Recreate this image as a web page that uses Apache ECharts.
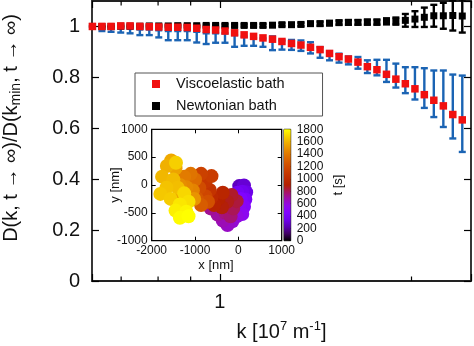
<!DOCTYPE html>
<html><head><meta charset="utf-8">
<script src="https://cdn.jsdelivr.net/npm/echarts@6/dist/echarts.min.js"></script>
<style>html,body{margin:0;padding:0;background:#fff}#c{width:474px;height:346px}</style>
</head><body><div id="c"></div>
<script>
// Wave numbers k [10^7 m^-1]
const kValues = [0.631, 0.653, 0.675, 0.699, 0.723, 0.749, 0.775, 0.802, 0.830, 0.859,
  0.889, 0.920, 0.952, 0.985, 1.019, 1.055, 1.092, 1.130, 1.169, 1.210,
  1.252, 1.296, 1.341, 1.388, 1.437, 1.487, 1.539, 1.592, 1.648, 1.705,
  1.765, 1.827, 1.890, 1.956, 2.025, 2.095, 2.168, 2.244, 2.322, 2.403];

// Viscoelastic bath: normalized long-time diffusion and its error band
const viscoValues = [1.000, 1.000, 1.000, 1.002, 1.002, 1.000, 0.999, 0.998, 0.997, 0.997,
  0.996, 0.993, 0.988, 0.986, 0.982, 0.975, 0.967, 0.961, 0.955, 0.950,
  0.941, 0.933, 0.927, 0.918, 0.909, 0.894, 0.881, 0.872, 0.860, 0.842,
  0.830, 0.812, 0.793, 0.775, 0.755, 0.732, 0.710, 0.688, 0.654, 0.633];
const viscoErrHigh = [1.000, 0.992, 0.992, 0.992, 0.992, 0.988, 0.988, 0.985, 0.982, 0.982,
  0.982, 0.979, 0.973, 0.973, 0.973, 0.966, 0.960, 0.955, 0.953, 0.961,
  0.945, 0.947, 0.945, 0.938, 0.919, 0.903, 0.893, 0.882, 0.880, 0.867,
  0.869, 0.869, 0.854, 0.840, 0.840, 0.836, 0.827, 0.827, 0.811, 0.807];
const viscoErrLow = [1.000, 0.982, 0.979, 0.976, 0.973, 0.966, 0.966, 0.957, 0.946, 0.946,
  0.946, 0.937, 0.931, 0.936, 0.936, 0.920, 0.924, 0.924, 0.920, 0.907,
  0.909, 0.908, 0.904, 0.894, 0.877, 0.867, 0.858, 0.851, 0.834, 0.817,
  0.808, 0.782, 0.760, 0.738, 0.713, 0.680, 0.644, 0.605, 0.560, 0.507];

// Newtonian bath: normalized long-time diffusion and half-width of its error bar
const newtonValues = [1.000, 1.000, 1.000, 1.001, 1.001, 1.001, 1.002, 1.002, 1.002, 1.003,
  1.003, 1.003, 1.004, 1.004, 1.004, 1.004, 1.004, 1.004, 1.004, 1.005,
  1.007, 1.007, 1.008, 1.011, 1.011, 1.013, 1.015, 1.016, 1.016, 1.017,
  1.017, 1.020, 1.021, 1.024, 1.029, 1.036, 1.042, 1.042, 1.043, 1.041];
const newtonErr = [0.000, 0.002, 0.002, 0.002, 0.003, 0.003, 0.003, 0.003, 0.003, 0.004,
  0.004, 0.004, 0.004, 0.004, 0.005, 0.005, 0.005, 0.005, 0.006, 0.006,
  0.006, 0.006, 0.007, 0.007, 0.008, 0.008, 0.008, 0.009, 0.009, 0.010,
  0.010, 0.012, 0.014, 0.025, 0.031, 0.038, 0.043, 0.051, 0.059, 0.065];

// Minor ticks of the logarithmic k axis
const minorTickK = [0.7, 0.8, 0.9, 2];

// Particle trajectory in the inset: [x nm, y nm, t s]
const trajectory = [
  [70, -30, 60], [110, -80, 150],
  [20, -20, 250], [130, -10, 290], [180, -130, 330], [90, -120, 360], [-20, -140, 390],
  [160, -260, 420], [60, -250, 450], [130, -390, 480], [30, -370, 510], [90, -520, 540],
  [-40, -560, 580], [-140, -650, 610], [-250, -720, 640], [-360, -640, 670],
  [-480, -530, 700], [-640, -420, 720], [-300, -500, 745], [-180, -560, 765],
  [-120, -420, 800], [-40, -290, 830], [-160, -180, 850], [-260, -300, 870],
  [-380, -400, 890], [-460, -250, 910], [-560, -360, 930], [-360, -140, 950], [-620, -220, 980],
  [-660, -90, 1050], [-760, 60, 1080], [-620, 160, 1110], [-860, 200, 1140],
  [-760, -200, 1170], [-900, -50, 1200], [-700, -300, 1220], [-960, -240, 1250], [-860, -360, 1280],
  [-1000, 100, 1350], [-1100, 200, 1380], [-1250, 150, 1410], [-1050, -100, 1440],
  [-1200, -40, 1460], [-1350, 0, 1480], [-1020, -250, 1500], [-1300, -200, 1510],
  [-1450, 300, 1550], [-1550, 440, 1570], [-1650, 340, 1590], [-1760, 150, 1610],
  [-1500, 100, 1620], [-1400, -50, 1630], [-1660, -50, 1645], [-1800, -160, 1660],
  [-1560, -250, 1670], [-1440, 400, 1680],
  [-1250, -150, 1700], [-1150, -300, 1720], [-1350, -350, 1740], [-1450, -460, 1760],
  [-1200, -480, 1775], [-1350, -590, 1790], [-1150, -560, 1800]
];

// Color palette for time t (black - violet - red - orange - yellow)
const palette = ['#000000', '#400062', '#5a00b4', '#6e02ec', '#8004ff', '#8f08ec', '#9c0db4',
  '#a91562', '#b42000', '#bf2d00', '#ca3e00', '#d35300', '#dd6c00', '#e68900', '#efab00',
  '#f7d200', '#ffff00'];

const FONT = 'Liberation Sans, Arial, Helvetica, sans-serif';
const RED = '#f01010';
const BLUE = '#1b64b4';

function errorBarItem(color) {
  return function (params, api) {
    const k = api.value(0);
    const lo = api.coord([k, api.value(1)]);
    const hi = api.coord([k, api.value(2)]);
    const w = 3.5;
    const style = { stroke: color, lineWidth: 2.4 };
    return {
      type: 'group', children: [
        { type: 'line', shape: { x1: lo[0], y1: lo[1], x2: hi[0], y2: hi[1] }, style },
        { type: 'line', shape: { x1: lo[0] - w, y1: lo[1], x2: lo[0] + w, y2: lo[1] }, style },
        { type: 'line', shape: { x1: hi[0] - w, y1: hi[1], x2: hi[0] + w, y2: hi[1] }, style }
      ]
    };
  };
}

const viscoPoints = kValues.map((k, i) => [k, viscoValues[i]]);
const viscoBars = kValues.map((k, i) => [k, viscoErrLow[i], viscoErrHigh[i]]);
const newtonPoints = kValues.map((k, i) => [k, newtonValues[i]]);
const newtonBars = kValues.map((k, i) => [k, newtonValues[i] - newtonErr[i], newtonValues[i] + newtonErr[i]]);

const chart = echarts.init(document.getElementById('c'), null, { renderer: 'canvas' });

const mainTick = { show: true, inside: true, length: 7, lineStyle: { color: '#000', width: 1.2 } };
const insetTick = { show: true, inside: true, length: 4, lineStyle: { color: '#000', width: 1 } };
const noLine = { show: false, onZero: false };
const plainNumber = v => String(v);
const titleStyle = { fontSize: 13, fontFamily: FONT, fill: '#111', align: 'center', verticalAlign: 'middle' };

chart.setOption({
  animation: false,
  backgroundColor: '#fff',
  textStyle: { fontFamily: FONT },
  grid: [
    { left: 92, top: 1, width: 379, height: 280, show: true, borderColor: '#222', borderWidth: 1.8, backgroundColor: 'transparent' },
    { left: 151.7, top: 129.3, width: 130, height: 111.4, show: true, borderColor: '#000', borderWidth: 1.3, backgroundColor: '#fff' },
    { left: 284, top: 129.3, width: 6.7, height: 111.4, show: true, borderColor: '#000', borderWidth: 1, backgroundColor: 'transparent' }
  ],
  xAxis: [
    { type: 'log', logBase: 10, min: 0.63, max: 2.48, gridIndex: 0, position: 'bottom',
      axisLine: noLine, splitLine: { show: false }, axisTick: mainTick,
      axisLabel: { fontSize: 20, color: '#111', margin: 11, fontFamily: FONT,
        formatter: v => (Math.abs(v - 1) < 1e-6 ? '1' : '') } },
    { type: 'log', logBase: 10, min: 0.63, max: 2.48, gridIndex: 0, position: 'top',
      axisLine: noLine, splitLine: { show: false }, axisTick: mainTick, axisLabel: { show: false } },
    { type: 'value', min: -2000, max: 1000, interval: 1000, gridIndex: 1, position: 'bottom',
      axisLine: noLine, splitLine: { show: false }, axisTick: insetTick,
      axisLabel: { fontSize: 12, color: '#111', margin: 4, formatter: plainNumber } },
    { type: 'value', min: -2000, max: 1000, interval: 1000, gridIndex: 1, position: 'top',
      axisLine: noLine, splitLine: { show: false }, axisTick: insetTick, axisLabel: { show: false } },
    { type: 'value', min: 0, max: 1, gridIndex: 2, show: false, axisLine: noLine }
  ],
  yAxis: [
    { type: 'value', min: 0, max: 1.1, interval: 0.2, gridIndex: 0, position: 'left',
      axisLine: noLine, splitLine: { show: false }, axisTick: mainTick,
      axisLabel: { fontSize: 20, color: '#111', margin: 12, showMaxLabel: false } },
    { type: 'value', min: 0, max: 1.1, interval: 0.2, gridIndex: 0, position: 'right',
      axisLine: noLine, splitLine: { show: false }, axisTick: mainTick, axisLabel: { show: false } },
    { type: 'value', min: -1000, max: 1000, interval: 500, gridIndex: 1, position: 'left',
      axisLine: noLine, splitLine: { show: false }, axisTick: insetTick,
      axisLabel: { fontSize: 12, color: '#111', margin: 4, formatter: plainNumber } },
    { type: 'value', min: -1000, max: 1000, interval: 500, gridIndex: 1, position: 'right',
      axisLine: noLine, splitLine: { show: false }, axisTick: insetTick, axisLabel: { show: false } },
    { type: 'value', min: 0, max: 1800, interval: 200, gridIndex: 2, position: 'right',
      axisLine: noLine, splitLine: { show: false },
      axisTick: { show: true, inside: true, length: 2, lineStyle: { color: '#000', width: 1 } },
      axisLabel: { fontSize: 12, color: '#111', margin: 6, formatter: plainNumber } }
  ],
  visualMap: {
    type: 'continuous', show: false, seriesIndex: 5, dimension: 2, min: 0, max: 1800,
    inRange: { color: palette }
  },
  legend: {
    left: 135, top: 73, orient: 'vertical',
    data: ['Viscoelastic bath', 'Newtonian bath'],
    icon: 'rect', itemWidth: 8, itemHeight: 8, itemGap: 6,
    padding: [3, 38, 2, 17],
    borderColor: '#555', borderWidth: 1, backgroundColor: '#fff',
    textStyle: { fontSize: 14.5, color: '#111', lineHeight: 16, padding: [0, 0, 0, 11], fontFamily: FONT }
  },
  graphic: [
    { type: 'text', x: 11, y: 128, rotation: Math.PI / 2,
      style: { text: 'D(k, t → ∞)/D(k{sub|min}, t → ∞)', fontSize: 20, fontFamily: FONT, fill: '#111',
        align: 'center', verticalAlign: 'middle', lineHeight: 24,
        rich: { sub: { fontSize: 14, fontFamily: FONT, fill: '#111', verticalAlign: 'bottom', lineHeight: 14 } } } },
    { type: 'text', x: 281.5, y: 332,
      style: { text: 'k [10{sup|7} m{sup|-1}]', fontSize: 20, fontFamily: FONT, fill: '#111',
        align: 'center', verticalAlign: 'middle', lineHeight: 24,
        rich: { sup: { fontSize: 13, fontFamily: FONT, fill: '#111', verticalAlign: 'top', lineHeight: 13 } } } },
    { type: 'text', x: 216, y: 265.5, style: Object.assign({ text: 'x [nm]' }, titleStyle) },
    { type: 'text', x: 115, y: 185, rotation: Math.PI / 2, style: Object.assign({ text: 'y [nm]' }, titleStyle) },
    { type: 'text', x: 338, y: 185, rotation: Math.PI / 2, style: Object.assign({ text: 't [s]' }, titleStyle) }
  ],
  series: [
    { type: 'custom', xAxisIndex: 0, yAxisIndex: 0, renderItem: errorBarItem('#000'),
      encode: { x: 0, y: [1, 2] }, data: newtonBars, silent: true },
    { name: 'Newtonian bath', type: 'scatter', xAxisIndex: 0, yAxisIndex: 0, symbol: 'rect', symbolSize: 7,
      itemStyle: { color: '#000', opacity: 1 }, data: newtonPoints },
    { type: 'custom', xAxisIndex: 0, yAxisIndex: 0, renderItem: errorBarItem(BLUE),
      encode: { x: 0, y: [1, 2] }, data: viscoBars, silent: true },
    { name: 'Viscoelastic bath', type: 'scatter', xAxisIndex: 0, yAxisIndex: 0, symbol: 'rect', symbolSize: 7.5,
      itemStyle: { color: RED, opacity: 1 }, data: viscoPoints },
    { type: 'custom', xAxisIndex: 0, yAxisIndex: 0, silent: true,
      data: minorTickK.map(k => [k, 0.5]),
      renderItem: function (params, api) {
        const x = api.coord([api.value(0), 0.5])[0];
        const top = params.coordSys.y;
        const bottom = params.coordSys.y + params.coordSys.height;
        const style = { stroke: '#000', lineWidth: 1.2 };
        return { type: 'group', children: [
          { type: 'line', shape: { x1: x, y1: bottom, x2: x, y2: bottom - 4.5 }, style },
          { type: 'line', shape: { x1: x, y1: top, x2: x, y2: top + 4.5 }, style }
        ] };
      } },
    { type: 'scatter', xAxisIndex: 2, yAxisIndex: 2, symbol: 'circle', symbolSize: 14,
      itemStyle: { opacity: 1 }, data: trajectory, z: 5 },
    { type: 'custom', xAxisIndex: 4, yAxisIndex: 4, silent: true, data: [[0.5, 900]],
      renderItem: function (params, api) {
        const p0 = api.coord([0, 1800]);
        const p1 = api.coord([1, 0]);
        const stops = palette.map((c, i) => ({ offset: i / (palette.length - 1), color: c }));
        return { type: 'rect', shape: { x: p0[0], y: p0[1], width: p1[0] - p0[0], height: p1[1] - p0[1] },
          style: { fill: new echarts.graphic.LinearGradient(0, 1, 0, 0, stops) } };
      } }
  ]
});
</script></body></html>
